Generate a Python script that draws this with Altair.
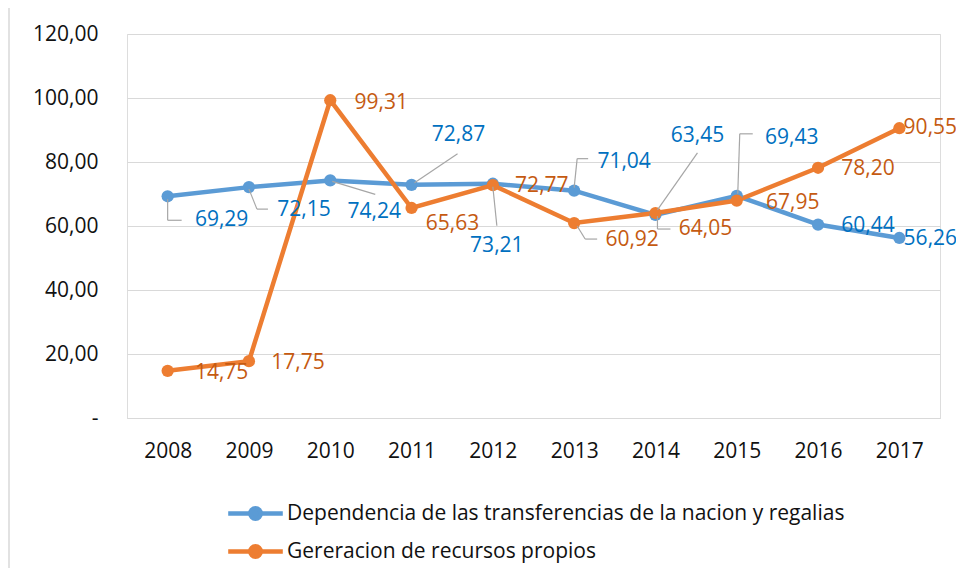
import altair as alt
import pandas as pd

years = ["2008", "2009", "2010", "2011", "2012", "2013", "2014", "2015", "2016", "2017"]
series_names = ["Dependencia de las transferencias de la nacion y regalias",
                "Gereracion de recursos propios"]
dependencia = [69.29, 72.15, 74.24, 72.87, 73.21, 71.04, 63.45, 69.43, 60.44, 56.26]
recursos = [14.75, 17.75, 99.31, 65.63, 72.77, 60.92, 64.05, 67.95, 78.20, 90.55]
y_ticks = [0, 20, 40, 60, 80, 100, 120]

# styles
line_colors = ["#5B9BD5", "#ED7D31"]
label_colors = ["#0070C0", "#C55A11"]
FONT = "Open Sans"
# label offsets (pixels) per series, per year
label_offsets = [
    [(54, 24), (55, 23), (44, 32), (47, -50), (4, 62), (50, -29), (42, -79), (55, -58), (50, 1), (31, 1)],
    [(54, 2), (49, 2), (51, 3), (41, 16), (49, 1), (58, 17), (50, 16), (56, 2), (50, 1), (31, 0)],
]
# leader segments (pixel offsets from point): series, year index, list of segments
leaders = [
    (0, 0, [((0, 3), (0, 24)), ((0, 24), (14, 24))]),
    (0, 1, [((0, 2), (8, 22)), ((8, 22), (19, 22))]),
    (0, 2, [((2, 1), (45, 14))]),
    (0, 3, [((3, -2), (46, -31))]),
    (0, 4, [((0, 3), (4, 42))]),
    (0, 5, [((0, -3), (3, -32)), ((3, -32), (14, -32))]),
    (0, 6, [((2, -5), (42, -62))]),
    (0, 7, [((1, -2), (3, -62)), ((3, -62), (16, -62))]),
    (1, 5, [((3, 3), (11, 16)), ((11, 16), (23, 16))]),
    (1, 6, [((2, 3), (2, 16)), ((2, 16), (15, 16))]),
]

rows = []
for s, vals in enumerate([dependencia, recursos]):
    for i, (yr, v) in enumerate(zip(years, vals)):
        rows.append({"year": yr, "serie": series_names[s], "value": v, "sid": s, "idx": i})
df = pd.DataFrame(rows)

x_enc = alt.X("year:O", title=None, sort=years,
              scale=alt.Scale(type="point", padding=0.5),
              axis=alt.Axis(labelAngle=0, labelFont=FONT, labelFontSize=21, labelColor="#111111",
                            domainColor="#D9D9D9", domainWidth=1.2, ticks=False, tickSize=0,
                            labelPadding=22, grid=False))
y_enc = alt.Y("value:Q", title=None,
              scale=alt.Scale(domain=[0, 120], nice=False, zero=True),
              axis=alt.Axis(values=y_ticks,
                            labelExpr="datum.value == 0 ? '-\u00a0\u00a0\u00a0' : replace(format(datum.value, '.2f'), '.', ',')",
                            labelFont=FONT, labelFontSize=21, labelColor="#111111",
                            domain=False, ticks=False, tickSize=0, labelPadding=29,
                            grid=True, gridColor="#D9D9D9", gridWidth=1.2))

color_enc = alt.Color("serie:N", sort=series_names,
                      scale=alt.Scale(domain=series_names, range=line_colors),
                      legend=alt.Legend(title=None, orient="none", legendX=118, legendY=469,
                                        direction="vertical",
                                        symbolType="M-3.9,0H-0.75M0.75,0H3.9M0.75,0A0.75,0.75,0,1,1,-0.75,0A0.75,0.75,0,1,1,0.75,0Z",
                                        symbolSize=196, symbolStrokeWidth=4.5,
                                        labelFont=FONT, labelFontSize=21, labelColor="#111111",
                                        labelOffset=21, rowPadding=9, padding=0,
                                        labelLimit=800))

base = alt.Chart(df)
lines = base.mark_line(strokeWidth=4.5).encode(x=x_enc, y=y_enc, color=color_enc,
                                               detail="serie:N", order="idx:Q")
points = base.mark_point(filled=True, size=150, opacity=1).encode(
    x=x_enc, y=y_enc,
    color=alt.Color("serie:N", scale=alt.Scale(domain=series_names, range=line_colors), legend=None))

layers = [lines, points]

# leader lines
for s, i, segs in leaders:
    for (a, b) in segs:
        layers.append(
            base.transform_filter(f"datum.sid == {s} && datum.idx == {i}")
            .mark_rule(color="#A6A6A6", strokeWidth=1.2,
                       xOffset=a[0], yOffset=a[1], x2Offset=b[0], y2Offset=b[1])
            .encode(x="year:O", y="value:Q", x2="year:O", y2="value:Q")
        )

# data labels
for s in range(2):
    for i in range(len(years)):
        dx, dy = label_offsets[s][i]
        layers.append(
            base.transform_filter(f"datum.sid == {s} && datum.idx == {i}")
            .transform_calculate(lab="replace(format(datum.value, '.2f'), '.', ',')")
            .mark_text(font=FONT, fontSize=21, color=label_colors[s], align="center",
                       baseline="middle", dx=dx, dy=dy)
            .encode(x="year:O", y="value:Q", text="lab:N")
        )

# outer frame
frame = alt.Chart(pd.DataFrame({"a": [0]})).mark_rect(fill=None, stroke="#D9D9D9", strokeWidth=1.5).encode(
    x=alt.value(-118), x2=alt.value(836), y=alt.value(-27), y2=alt.value(560))
layers.append(frame)

chart = alt.layer(*layers).properties(
    width=813, height=384,
    autosize=alt.AutoSizeParams(type="none"),
    padding={"left": 119, "top": 26, "right": 16, "bottom": 150},
).configure_view(stroke=None).configure(background="white")

chart.save("out.html", embed_options={"renderer": "svg", "actions": False})
